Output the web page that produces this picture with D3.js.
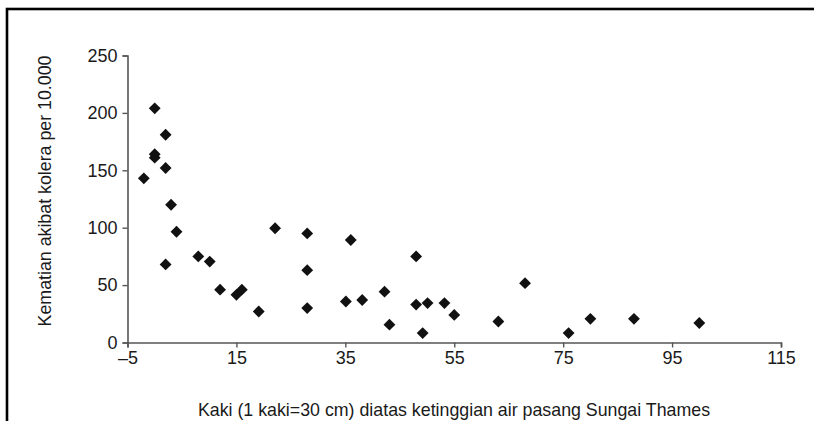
<!DOCTYPE html>
<html><head><meta charset="utf-8">
<script src="https://cdn.jsdelivr.net/npm/d3@7"></script>
<style>
html,body{margin:0;padding:0;background:#fff;}
svg{display:block;font-family:"Liberation Sans",Arial,Helvetica,sans-serif;}
</style></head>
<body>
<svg id="chart" width="814" height="421"></svg>
<script>
const xValues = [-2, 0, 0, 0, 2, 2, 3, 4, 2, 8, 10.1, 12, 15, 16, 19.1, 22.1, 28, 28, 28, 35.1, 36, 38.1, 42.2, 43.1, 48, 48, 49.2, 50.1, 53.2, 55, 63.1, 68, 76, 80, 88, 100];
const yValues = [143, 204, 164, 161, 181, 152, 120, 96.5, 68, 75, 70.5, 46, 41.5, 46, 27, 99.5, 95, 63, 30, 35.7, 89.3, 37, 44.3, 15.5, 75, 33, 8.2, 34.3, 34.3, 24, 18.3, 51.7, 8.2, 20.6, 20.6, 17];
const xTicks = [-5, 15, 35, 55, 75, 95, 115];
const yTicks = [0, 50, 100, 150, 200, 250];
const xTitle = "Kaki (1 kaki=30 cm) diatas ketinggian air pasang Sungai Thames";
const yTitle = "Kematian akibat kolera per 10.000";

const svg = d3.select("#chart");
const x = d3.scaleLinear().domain([-5, 115]).range([127.5, 781]);
const y = d3.scaleLinear().domain([0, 250]).range([342.5, 55.5]);

// frame
svg.append("rect").attr("x", 7).attr("y", 9).attr("width", 900).attr("height", 500)
  .attr("fill", "none").attr("stroke", "#000").attr("stroke-width", 2.6);

const axisColor = "#555";
const gx = svg.append("g").attr("transform", `translate(0,${y(0)})`)
  .call(d3.axisBottom(x).tickValues(xTicks).tickSize(5).tickPadding(4)
    .tickFormat(d => d < 0 ? "\u2013" + Math.abs(d) : d));
const gy = svg.append("g").attr("transform", `translate(${x(-5)},0)`)
  .call(d3.axisLeft(y).tickValues(yTicks).tickSize(5).tickPadding(5));
[gx, gy].forEach(g => {
  g.select(".domain").attr("stroke", axisColor).attr("stroke-width", 1.6);
  g.selectAll(".tick line").attr("stroke", axisColor).attr("stroke-width", 1.4);
  g.selectAll(".tick text").attr("fill", "#1a1a1a").style("font-size", "18px")
    .style("font-family", '"Liberation Sans",Arial,sans-serif');
});

svg.append("text").attr("x", 454).attr("y", 416).attr("text-anchor", "middle")
  .attr("fill", "#1a1a1a").style("font-size", "17.8px").text(xTitle);
svg.append("text").attr("transform", "translate(51,191) rotate(-90)").attr("text-anchor", "middle")
  .attr("fill", "#1a1a1a").style("font-size", "17.8px").text(yTitle);

const data = xValues.map((v, i) => ({x: v, y: yValues[i]}));
const sym = d3.symbol().type(d3.symbolSquare).size(70);
svg.append("g").selectAll("path").data(data).join("path")
  .attr("d", sym)
  .attr("transform", d => `translate(${x(d.x)},${y(d.y)}) rotate(45)`)
  .attr("fill", "#111");
</script>
</body></html>
